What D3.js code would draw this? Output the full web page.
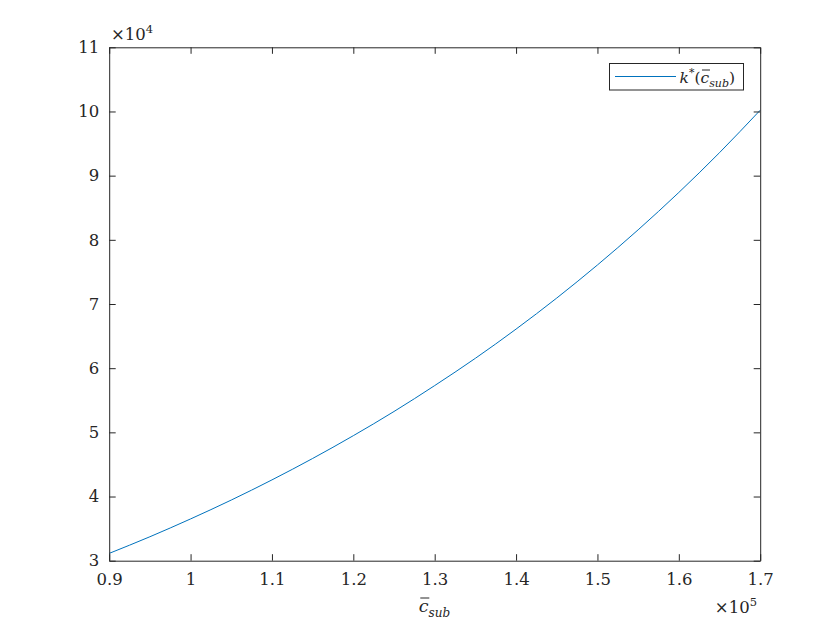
<!DOCTYPE html>
<html>
<head>
<meta charset="utf-8">
<script src="https://cdn.jsdelivr.net/npm/d3@7"></script>
<style>
  html, body { margin: 0; padding: 0; background: #ffffff; }
  svg { display: block; }
  svg text { font-family: "DejaVu Serif", serif !important; fill: #262626; }
</style>
</head>
<body>
<svg id="chart" width="840" height="630"></svg>
<script>
// ---- data ----
const cSub = [90000, 95000, 100000, 105000, 110000, 115000, 120000, 125000, 130000,
              135000, 140000, 145000, 150000, 155000, 160000, 165000, 170000];
const kStar = [31140, 33730, 36510, 39450, 42590, 45930, 49480, 53250, 57290,
               61540, 66090, 70930, 76080, 81560, 87380, 93580, 100200];
const xTicks = [90000, 100000, 110000, 120000, 130000, 140000, 150000, 160000, 170000];
const yTicks = [30000, 40000, 50000, 60000, 70000, 80000, 90000, 100000, 110000];
const xTickLabels = ["0.9", "1", "1.1", "1.2", "1.3", "1.4", "1.5", "1.6", "1.7"];
const yTickLabels = ["3", "4", "5", "6", "7", "8", "9", "10", "11"];

const svg = d3.select("#chart");
const W = 840, H = 630;
const pLeft = 109.2, pRight = 760.2, pTop = 47.3, pBottom = 560.7;
const axisColor = "#262626";
const lineColor = "#0072BD";
const tickLen = 6.5;
const fontFam = "'DejaVu Serif', serif";
const fs = 16.5;

const x = d3.scaleLinear().domain([90000, 170000]).range([pLeft, pRight]);
const y = d3.scaleLinear().domain([30000, 110000]).range([pBottom, pTop]);

svg.append("rect").attr("width", W).attr("height", H).attr("fill", "#ffffff");

// data line
const data = cSub.map((c, i) => ({ c, k: kStar[i] }));
svg.append("path")
  .datum(data)
  .attr("fill", "none")
  .attr("stroke", lineColor)
  .attr("stroke-width", 1)
  .attr("d", d3.line().x(d => x(d.c)).y(d => y(d.k)).curve(d3.curveMonotoneX));

// axes
function styleAxis(g) {
  g.attr("font-family", fontFam);
  g.select(".domain").attr("stroke", axisColor).attr("stroke-width", 1);
  g.selectAll(".tick line").attr("stroke", axisColor).attr("stroke-width", 1);
  g.selectAll(".tick text").attr("font-size", fs).attr("fill", axisColor);
}

const gx = svg.append("g").attr("transform", `translate(0,${pBottom})`)
  .call(d3.axisBottom(x).tickValues(xTicks).tickSizeInner(-tickLen).tickSizeOuter(0)
        .tickPadding(13).tickFormat((d, i) => xTickLabels[i]));
styleAxis(gx);

const gy = svg.append("g").attr("transform", `translate(${pLeft},0)`)
  .call(d3.axisLeft(y).tickValues(yTicks).tickSizeInner(-tickLen).tickSizeOuter(0)
        .tickPadding(10).tickFormat((d, i) => yTickLabels[i]));
styleAxis(gy);

const gxt = svg.append("g").attr("transform", `translate(0,${pTop})`)
  .call(d3.axisTop(x).tickValues(xTicks).tickSizeInner(-tickLen).tickSizeOuter(0).tickFormat(""));
styleAxis(gxt);

const gyr = svg.append("g").attr("transform", `translate(${pRight},0)`)
  .call(d3.axisRight(y).tickValues(yTicks).tickSizeInner(-tickLen).tickSizeOuter(0).tickFormat(""));
styleAxis(gyr);

// exponent labels
const expY = svg.append("text").attr("x", 111).attr("y", 40).attr("font-size", fs);
expY.append("tspan").text("×10");
expY.append("tspan").attr("font-size", 11.5).attr("dy", -7).text("4");

const expX = svg.append("text").attr("x", 757).attr("y", 613).attr("font-size", fs)
  .attr("text-anchor", "end");
expX.append("tspan").text("×10");
expX.append("tspan").attr("font-size", 11.5).attr("dy", -7).text("5");

// x-axis label: c-bar sub
const xl = svg.append("g");
const xlText = xl.append("text").attr("x", 434.5).attr("y", 611.5).attr("font-size", fs + 1)
  .attr("text-anchor", "middle").attr("font-style", "italic");
xlText.append("tspan").attr("class", "cb").text("c");
xlText.append("tspan").attr("font-size", 12).attr("dy", 5).text("sub");
{
  const bb = xlText.select(".cb").node().getBBox();
  xl.append("line").attr("x1", bb.x + 1.5).attr("x2", bb.x + bb.width + 0.5)
    .attr("y1", 598).attr("y2", 598).attr("stroke", axisColor).attr("stroke-width", 1);
}

// legend
const lg = svg.append("g");
lg.append("rect").attr("x", 609.5).attr("y", 63.5).attr("width", 134).attr("height", 26.5)
  .attr("fill", "#ffffff").attr("stroke", axisColor).attr("stroke-width", 1);
lg.append("line").attr("x1", 615).attr("x2", 676).attr("y1", 76.5).attr("y2", 76.5)
  .attr("stroke", lineColor).attr("stroke-width", 1);
const lt = lg.append("text").attr("x", 679.5).attr("y", 82.5).attr("font-size", 15.5);
lt.append("tspan").attr("font-style", "italic").text("k");
lt.append("tspan").attr("font-size", 11).attr("dy", -7).text("*");
lt.append("tspan").attr("dy", 7).text("(");
lt.append("tspan").attr("class", "cb2").attr("font-style", "italic").text("c");
lt.append("tspan").attr("font-style", "italic").attr("font-size", 11).attr("dy", 4).text("sub");
lt.append("tspan").attr("dy", -4).text(")");
{
  const bb = lt.select(".cb2").node().getBBox();
  lg.append("line").attr("x1", bb.x + 1.5).attr("x2", bb.x + bb.width + 0.5)
    .attr("y1", 70).attr("y2", 70).attr("stroke", axisColor).attr("stroke-width", 1);
}
</script>
</body>
</html>
